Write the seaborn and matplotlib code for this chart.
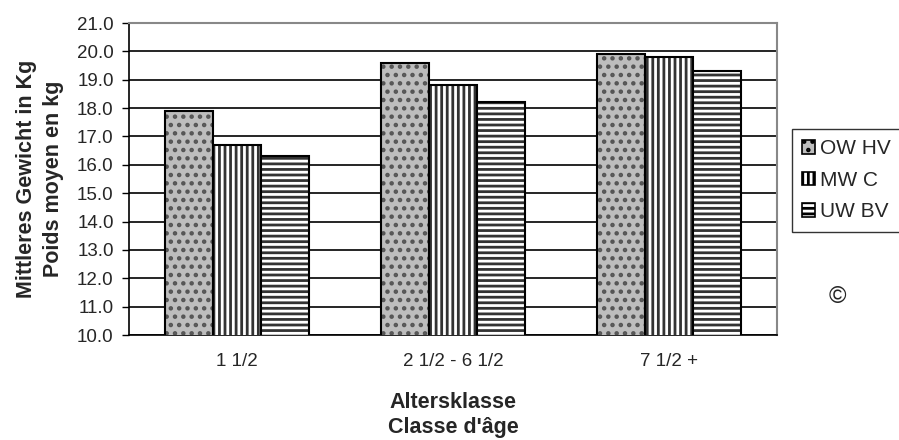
import matplotlib
matplotlib.use("Agg")
import matplotlib.pyplot as plt
import seaborn as sns
import pandas as pd
from matplotlib.patches import Patch

# Age classes and mean weights (kg) per region
categories = ["1 1/2", "2 1/2 - 6 1/2", "7 1/2 +"]
series_names = ["OW HV", "MW C", "UW BV"]
ow_hv = [17.9, 19.6, 19.9]
mw_c = [16.7, 18.8, 19.8]
uw_bv = [16.3, 18.2, 19.3]
y_ticks = [10.0 + i for i in range(12)]

df = pd.DataFrame({
    "Klasse": categories * 3,
    "Serie": [series_names[0]] * 3 + [series_names[1]] * 3 + [series_names[2]] * 3,
    "Wert": ow_hv + mw_c + uw_bv,
})

sns.set_theme(style="white")
plt.rcParams["font.family"] = ["Liberation Sans", "DejaVu Sans"]
plt.rcParams["hatch.linewidth"] = 2.0

fig = plt.figure(figsize=(8.99, 4.40), dpi=100)
ax = fig.add_axes([0.1435, 0.2386, 0.7208, 0.7091])

styles = [
    dict(facecolor="#bdbdbd", hatch="..", hatchcolor="#555555"),
    dict(facecolor="white", hatch="|||", hatchcolor="#333333"),
    dict(facecolor="white", hatch="---", hatchcolor="#333333"),
]

sns.barplot(data=df, x="Klasse", y="Wert", hue="Serie", hue_order=series_names,
            order=categories, width=0.667, ax=ax, legend=False, zorder=3)

for container, st in zip(ax.containers, styles):
    for bar in container:
        bar.set_facecolor(st["facecolor"])
        bar.set_hatch(st["hatch"])
        bar.set_edgecolor("black")
        bar.set_linewidth(1.5)
        try:
            bar._hatch_color = matplotlib.colors.to_rgba(st["hatchcolor"])
        except Exception:
            pass

ax.set_ylim(10.0, 21.0)
ax.set_yticks(y_ticks)
ax.set_yticklabels([f"{v:.1f}" for v in y_ticks], fontsize=13.5)
ax.set_xlim(-0.5, 2.5)
ax.set_xticks([0.5, 1.5], minor=True)
ax.set_xticks([0, 1, 2])
ax.set_xticklabels(categories, fontsize=13.5)
ax.tick_params(axis="x", which="major", length=0, pad=13)
ax.tick_params(axis="x", which="minor", length=6, width=1, direction="in", color="black")
ax.tick_params(axis="y", length=5, width=1, direction="out", color="black", left=True, pad=6)

ax.yaxis.grid(True, color="black", linewidth=1.2, zorder=0)
ax.set_axisbelow(True)

for side in ["left", "bottom"]:
    ax.spines[side].set_color("black")
    ax.spines[side].set_linewidth(1.2)
for side in ["top", "right"]:
    ax.spines[side].set_color("#888888")
    ax.spines[side].set_linewidth(1.5)

ax.set_xlabel("Altersklasse\nClasse d'âge", fontsize=15.5, fontweight="bold", labelpad=16,
              linespacing=1.25)
ax.set_ylabel("Mittleres Gewicht in Kg\nPoids moyen en kg", fontsize=15.5, fontweight="bold",
              labelpad=9, linespacing=1.4)

handles = []
for name, st in zip(series_names, styles):
    p = Patch(facecolor=st["facecolor"], edgecolor="black", hatch=st["hatch"], label=name,
              linewidth=1.2)
    handles.append(p)
leg = fig.legend(handles=handles, loc="upper left", bbox_to_anchor=(792 / 899, 1 - 129 / 440),
                 fontsize=15, frameon=True, fancybox=False, edgecolor="black",
                 handlelength=0.6, handleheight=0.6, handletextpad=0.25,
                 borderpad=0.5, labelspacing=0.6, borderaxespad=0)
leg.get_frame().set_linewidth(1.0)

fig.text(837 / 899, 1 - 297 / 440, "©", fontsize=17, ha="center", va="center")

fig.savefig("out.png", dpi=100)
